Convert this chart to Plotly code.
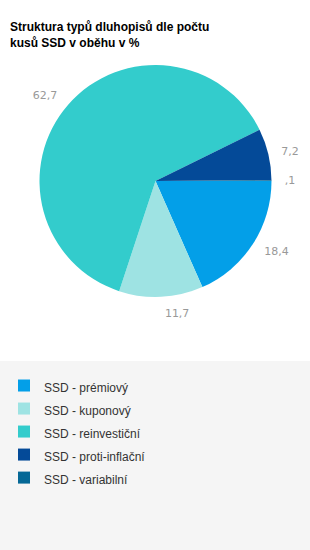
import plotly.graph_objects as go

labels = ["SSD - prémiový", "SSD - kuponový", "SSD - reinvestiční", "SSD - proti-inflační", "SSD - variabilní"]
values = [18.4, 11.7, 62.7, 7.2, 0.1]
colors = ["#039fe8", "#9ee3e3", "#33cccc", "#044a98", "#056896"]
title_text = "Struktura typů dluhopisů dle počtu<br>kusů SSD v oběhu v %"


def fmt(v):
    s = f"{v:.1f}".replace(".", ",")
    if s.startswith("0,"):
        s = s[1:]
    return s


texts = [fmt(v) for v in values]
legend_labels = [f'<span style="font-size:12px">{l}</span>' for l in labels]

W, H = 310, 550
mt, mb = 40, 190
ph = H - mt - mb
cx, cy, r = 155.5, 181, 116
r_lab = 126  # radius of transparent pie carrying the outside labels


def dom(rad):
    return dict(x=[(cx - rad) / W, (cx + rad) / W],
                y=[1 - (cy + rad - mt) / ph, 1 - (cy - rad - mt) / ph])


# transparent pie only used to place the value labels a bit further out
fig = go.Figure(go.Pie(
    labels=legend_labels,
    values=values,
    text=texts,
    textinfo="text",
    textposition="outside",
    outsidetextfont=dict(family="DejaVu Sans, Verdana", size=11, color="#999999"),
    marker=dict(colors=["rgba(0,0,0,0)"] * len(values), line=dict(width=0)),
    sort=False,
    direction="clockwise",
    rotation=90,
    hoverinfo="skip",
    showlegend=False,
    domain=dom(r_lab),
    automargin=False,
))

fig.add_trace(go.Pie(
    labels=legend_labels,
    values=values,
    textinfo="none",
    marker=dict(colors=colors, line=dict(width=0)),
    sort=False,
    direction="clockwise",
    rotation=90,
    hovertext=labels,
    hoverinfo="text+value",
    domain=dom(r),
    automargin=False,
))

fig.update_layout(
    width=W, height=H,
    margin=dict(l=0, r=0, t=mt, b=mb),
    paper_bgcolor="white",
    plot_bgcolor="white",
    font=dict(family="Liberation Sans, Arial", size=12, color="#333333"),
    title=dict(text=title_text, x=10 / W, xanchor="left", xref="container",
               y=1 - 31 / H, yanchor="top", yref="container",
               font=dict(family="Liberation Sans, Arial", size=12, color="#000000", weight="bold")),
    showlegend=True,
    legend=dict(x=4 / W, xanchor="left", y=(H - mb - 369) / ph, yanchor="top",
                yref="paper", bgcolor="rgba(0,0,0,0)",
                font=dict(family="Liberation Sans, Arial", size=15.4, color="#333333"),
                traceorder="normal", itemclick=False),
    shapes=[dict(type="rect", xref="paper", yref="paper", layer="below",
                 x0=0, x1=1, y0=(H - mb - H) / ph, y1=(H - mb - 361) / ph,
                 fillcolor="#f5f5f5", line=dict(width=0))],
)

fig.write_html("out.html")
